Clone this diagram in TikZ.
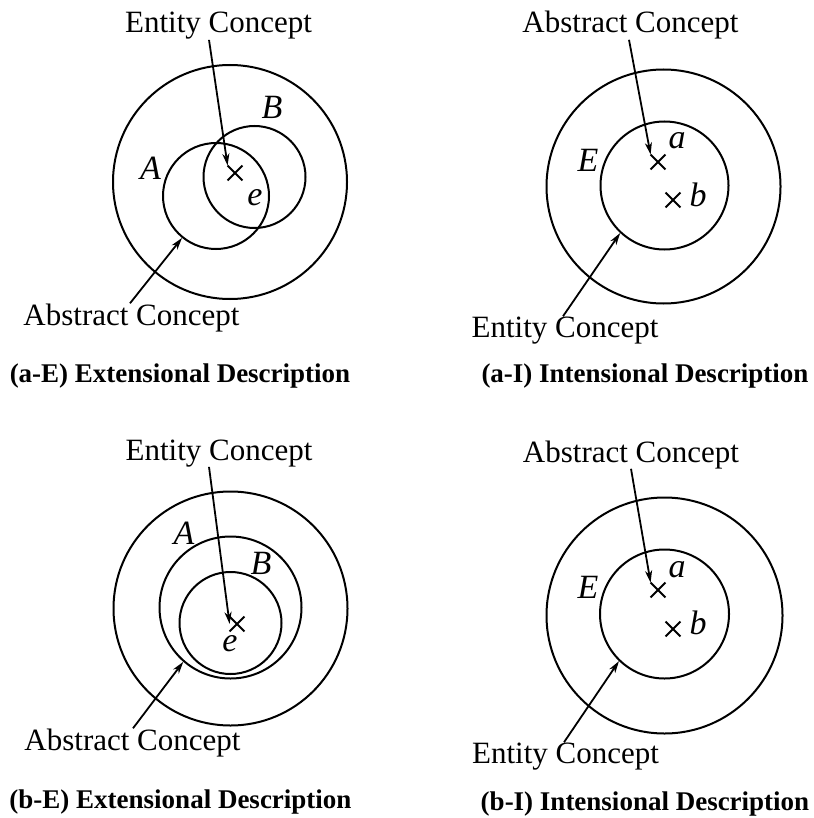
\documentclass[tikz,border=0pt]{standalone}
\usepackage{fontspec}
\setmainfont{Liberation Serif}
\usetikzlibrary{arrows.meta,shapes.misc}
\begin{document}
\begin{tikzpicture}[x=1pt,y=-1pt,
  ring/.style={circle,draw,line width=2pt,inner sep=0pt},
  lbl/.style={font=\fontsize{31}{37}\selectfont,inner sep=0pt,anchor=base},
  subcaption/.style={font=\fontsize{27}{32}\selectfont\bfseries,inner sep=0pt,anchor=base},
  setname/.style={font=\fontsize{34}{41}\selectfont\itshape,inner sep=0pt},
  elem/.style={cross out,draw,line width=1.8pt,minimum size=13pt,inner sep=0pt},
  pointer/.style={line width=1.8pt,-{Stealth[length=12pt,width=7pt,inset=3.5pt]}}]
\useasboundingbox (0,0) rectangle (813,818);

% ---------- (a-E) overlapping sets ----------
\node[ring,minimum size=234pt] (oE1) at (230,182) {};
\node[ring,minimum size=106pt] (A1) at (216,196) {};
\node[ring,minimum size=102pt] (B1) at (254.5,177) {};
\node[setname] at (150.5,168.5) {A};
\node[setname] at (272,107) {B};
\node[setname] at (255,197.5) {e};
\node[elem] (x1) at (235,173) {};
\node[lbl] (ent1) at (218.5,33) {Entity Concept};
\node[lbl] (abs1) at (131.5,325) {Abstract Concept};
\node[subcaption] at (180,382) {(a-E) Extensional Description};
\draw[pointer] ([xshift=-9.5pt]ent1.south) -- (x1.north west);
\draw[pointer] ([xshift=-1.5pt]abs1.north) -- (A1.231);

% ---------- (a-I) nested sets ----------
\node[ring,minimum size=234pt] (oI1) at (663.5,186.5) {};
\node[ring,minimum size=128pt] (E1) at (664.5,185.5) {};
\node[setname] at (588,160) {E};
\node[setname] at (677,141) {a};
\node[setname] at (698,195) {b};
\node[elem] (xa1) at (658,162) {};
\node[elem] (xb1) at (673,200) {};
\node[lbl] (abs2) at (630.5,33) {Abstract Concept};
\node[lbl] (ent2) at (565,337) {Entity Concept};
\node[subcaption] at (645,382) {(a-I) Intensional Description};
\draw[pointer] ([xshift=-1.5pt]abs2.south) -- (xa1.north west);
\draw[pointer] ([xshift=-2pt]ent2.north) -- (E1.227);

% ---------- (b-E) nested extensions ----------
\node[ring,minimum size=234pt] (oE2) at (230.5,608.5) {};
\node[ring,minimum size=142pt] (A2) at (230.5,607.5) {};
\node[ring,minimum size=102pt] (B2) at (230.5,623) {};
\node[setname] at (184,533) {A};
\node[setname] at (261,563) {B};
\node[setname] at (230,644) {e};
\node[elem] (x2) at (237,624) {};
\node[lbl] (ent3) at (219,460) {Entity Concept};
\node[lbl] (abs3) at (132.5,750) {Abstract Concept};
\node[subcaption] at (180.5,808) {(b-E) Extensional Description};
\draw[pointer] ([xshift=-10pt]ent3.south) -- (x2.west);
\draw[pointer] ([xshift=0.5pt]abs3.north) -- (A2.229);

% ---------- (b-I) nested intensions ----------
\node[ring,minimum size=236pt] (oI2) at (664.5,615.5) {};
\node[ring,minimum size=129pt] (E2) at (664.5,614) {};
\node[setname] at (588,587) {E};
\node[setname] at (677,570) {a};
\node[setname] at (698,623) {b};
\node[elem] (xa2) at (658,590) {};
\node[elem] (xb2) at (673,629) {};
\node[lbl] (abs4) at (631,462) {Abstract Concept};
\node[lbl] (ent4) at (565.5,763) {Entity Concept};
\node[subcaption] at (645,810) {(b-I) Intensional Description};
\draw[pointer] ([xshift=0pt]abs4.south) -- (xa2.north west);
\draw[pointer] ([xshift=-1.5pt]ent4.north) -- (E2.226);
\end{tikzpicture}
\end{document}
